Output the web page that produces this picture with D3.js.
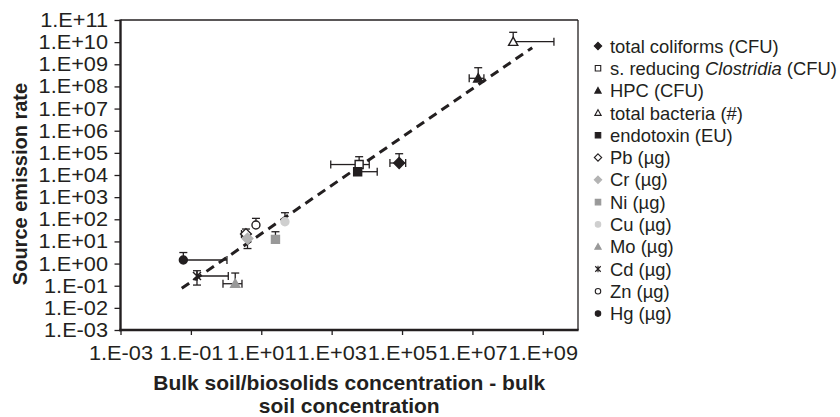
<!DOCTYPE html>
<html><head><meta charset="utf-8">
<script src="https://cdn.jsdelivr.net/npm/d3@7"></script>
<style>
body{margin:0;background:#fff;}
text{font-family:"Liberation Sans",Arial,Helvetica,sans-serif;fill:#231f20;}
</style></head>
<body><svg id="chart" width="840" height="417"></svg>
<script>
// ---- data ----
const seriesNames = ["total coliforms (CFU)", "s. reducing Clostridia (CFU)", "HPC (CFU)", "total bacteria (#)", "endotoxin (EU)", "Pb (µg)", "Cr (µg)", "Ni (µg)", "Cu (µg)", "Mo (µg)", "Cd (µg)", "Zn (µg)", "Hg (µg)"];
const xValues = [82800, 6040, 1.46e7, 1.44e8, 5480, 3.67, 4.06, 25.3, 47.1, 1.82, 0.149, 7.06, 0.061];
const yValues = [34800, 29700, 2.33e8, 1.05e10, 14100, 21.6, 13.5, 12.4, 77.6, 0.123, 0.274, 55.1, 1.45];
const xErrLow  = [45300, 942, 8.1e6, null, null, 2.74, null, null, null, 0.817, null, null, null];
const xErrHigh = [127000, 11700, 2.12e7, 2.07e9, 19700, null, null, null, null, 2.83, 1.155, null, 1.06];
const yErrLow  = [null, null, null, null, null, null, 4.77, null, null, null, 0.107, null, null];
const yErrHigh = [91400, 67000, 7.0e8, 2.78e10, null, 36.3, null, 27.4, 198, 0.374, 0.475, 110, 3.15];
const trendX = [0.055, 5.0e8];
const trendY = [0.076, 5.6e9];
const yTicks = [1e-3,1e-2,1e-1,1e0,1e1,1e2,1e3,1e4,1e5,1e6,1e7,1e8,1e9,1e10,1e11];
const xTicks = [1e-3,1e-1,1e1,1e3,1e5,1e7,1e9];
const xTitleLines = ["Bulk soil/biosolids concentration - bulk", "soil concentration"];
const yTitle = "Source emission rate";

// marker styles (shape, fill, stroke)
const markerShape = ["diamond","square","triangle","triangle","square","diamond","diamond","square","circle","triangle","star","circle","circle"];
const markerFill  = ["#231f20","#fff","#231f20","#fff","#231f20","#fff","#b3b3b3","#999","#cfcfcf","#999",null,"#fff","#231f20"];
const markerStroke= ["#231f20","#231f20","#231f20","#231f20","#231f20","#231f20","#b3b3b3","#999","#cfcfcf","#999","#231f20","#231f20","#231f20"];

const svg = d3.select("#chart");
const L=120.5, R=578, T=20, B=330;
const x = d3.scaleLog().domain([1e-3,1e10]).range([L,R]);
const y = d3.scaleLog().domain([1e-3,1e11]).range([B,T]);
const fmt = v => { const e = Math.round(Math.log10(v)); return "1.E" + (e<0?"-":"+") + String(Math.abs(e)).padStart(2,"0"); };
const SX = 1.06;

// custom symbols
const diamondSym = {draw(ctx,s){const r=Math.sqrt(s)/2*1.35;ctx.moveTo(0,-r);ctx.lineTo(r,0);ctx.lineTo(0,r);ctx.lineTo(-r,0);ctx.closePath();}};
const squareSym = {draw(ctx,s){const r=Math.sqrt(s)/2;ctx.rect(-r,-r,2*r,2*r);}};
const triSym = {draw(ctx,s){const r=Math.sqrt(s)/2*1.15;ctx.moveTo(0,-r);ctx.lineTo(r,r*0.8);ctx.lineTo(-r,r*0.8);ctx.closePath();}};
const circSym = {draw(ctx,s){const r=Math.sqrt(s)/2;ctx.moveTo(r,0);ctx.arc(0,0,r,0,2*Math.PI);}};
const starSym = {draw(ctx,s){const r=Math.sqrt(s)/2;ctx.moveTo(-r,-r);ctx.lineTo(r,r);ctx.moveTo(r,-r);ctx.lineTo(-r,r);ctx.moveTo(0,-r*1.2);ctx.lineTo(0,r*1.2);}};
const symMap = {diamond:diamondSym, square:squareSym, triangle:triSym, circle:circSym, star:starSym};

// axes
const yAxis = d3.axisLeft(y).tickValues(yTicks).tickFormat(fmt).tickSize(6).tickPadding(5);
const gy = svg.append("g").attr("transform",`translate(${L},0)`).call(yAxis);
const xAxis = d3.axisBottom(x).tickValues(xTicks).tickFormat(fmt).tickSize(5).tickPadding(4);
const gx = svg.append("g").attr("transform",`translate(0,${B})`).call(xAxis);
[gx,gy].forEach(g=>{
  g.select(".domain").remove();
  g.selectAll(".tick line").attr("stroke","#231f20").attr("stroke-width",1.3);
  g.selectAll(".tick text").style("font-size","20.5px").attr("fill","#231f20").attr("transform",`scale(${SX},1)`);
});
gx.selectAll(".tick text").attr("dy","1.02em");
gy.selectAll(".tick text").attr("x",-12.5/SX);

// frame
svg.append("line").attr("x1",L).attr("x2",R).attr("y1",T).attr("y2",T).attr("stroke","#231f20").attr("stroke-width",1.3);
svg.append("line").attr("x1",R).attr("x2",R).attr("y1",T).attr("y2",B).attr("stroke","#231f20").attr("stroke-width",1.3);
svg.append("line").attr("x1",L).attr("x2",L).attr("y1",T-0.6).attr("y2",B+1.2).attr("stroke","#231f20").attr("stroke-width",2.4);
svg.append("line").attr("x1",L-1.2).attr("x2",R+0.6).attr("y1",B).attr("y2",B).attr("stroke","#231f20").attr("stroke-width",2.4);

// trendline
svg.append("line")
  .attr("x1",x(trendX[0])).attr("y1",y(trendY[0]))
  .attr("x2",x(trendX[1])).attr("y2",y(trendY[1]))
  .attr("stroke","#231f20").attr("stroke-width",3).attr("stroke-dasharray","9,6");

// error bars
const eg = svg.append("g").attr("stroke","#231f20").attr("stroke-width",1.3).attr("fill","none");
const cap = 4;
seriesNames.forEach((n,i)=>{
  const cx = x(xValues[i]), cy = y(yValues[i]);
  [xErrLow[i], xErrHigh[i]].forEach(v=>{
    if(v==null) return;
    const ex = x(v);
    eg.append("line").attr("x1",cx).attr("x2",ex).attr("y1",cy).attr("y2",cy);
    eg.append("line").attr("x1",ex).attr("x2",ex).attr("y1",cy-cap).attr("y2",cy+cap);
  });
  [yErrLow[i], yErrHigh[i]].forEach(v=>{
    if(v==null) return;
    const ey = y(v);
    eg.append("line").attr("x1",cx).attr("x2",cx).attr("y1",cy).attr("y2",ey);
    eg.append("line").attr("x1",cx-cap).attr("x2",cx+cap).attr("y1",ey).attr("y2",ey);
  });
});

// markers
const mg = svg.append("g");
seriesNames.forEach((n,i)=>{
  mg.append("path")
    .attr("d", d3.symbol().type(symMap[markerShape[i]]).size(64)())
    .attr("transform",`translate(${x(xValues[i])},${y(yValues[i])})`)
    .attr("fill", markerFill[i]==null?"none":markerFill[i])
    .attr("stroke", markerStroke[i]).attr("stroke-width",1.4);
});

// legend
const lg = svg.append("g");
seriesNames.forEach((n,i)=>{
  const ly = 46 + i*22.3;
  lg.append("path")
    .attr("d", d3.symbol().type(symMap[markerShape[i]]).size(30)())
    .attr("transform",`translate(598,${ly})`)
    .attr("fill", markerFill[i]==null?"none":markerFill[i])
    .attr("stroke", markerStroke[i]).attr("stroke-width",1.1);
  const t = lg.append("text").attr("x",610).attr("y",ly).attr("dy","0.36em").style("font-size","18.4px");
  if(n.indexOf("Clostridia")>=0){
    t.append("tspan").text("s. reducing ");
    t.append("tspan").style("font-style","italic").text("Clostridia");
    t.append("tspan").text(" (CFU)");
  } else {
    t.text(n);
  }
});

// axis titles
svg.append("text").attr("transform",`translate(26.5,${(T+B)/2+9}) rotate(-90)`)
  .attr("text-anchor","middle").style("font-size","20px").style("font-weight","bold").text(yTitle);
xTitleLines.forEach((s,i)=>{
  svg.append("text").attr("x",(L+R)/2).attr("y",390+i*22.5).attr("text-anchor","middle")
    .style("font-size","21px").style("font-weight","bold").text(s);
});
</script></body></html>
